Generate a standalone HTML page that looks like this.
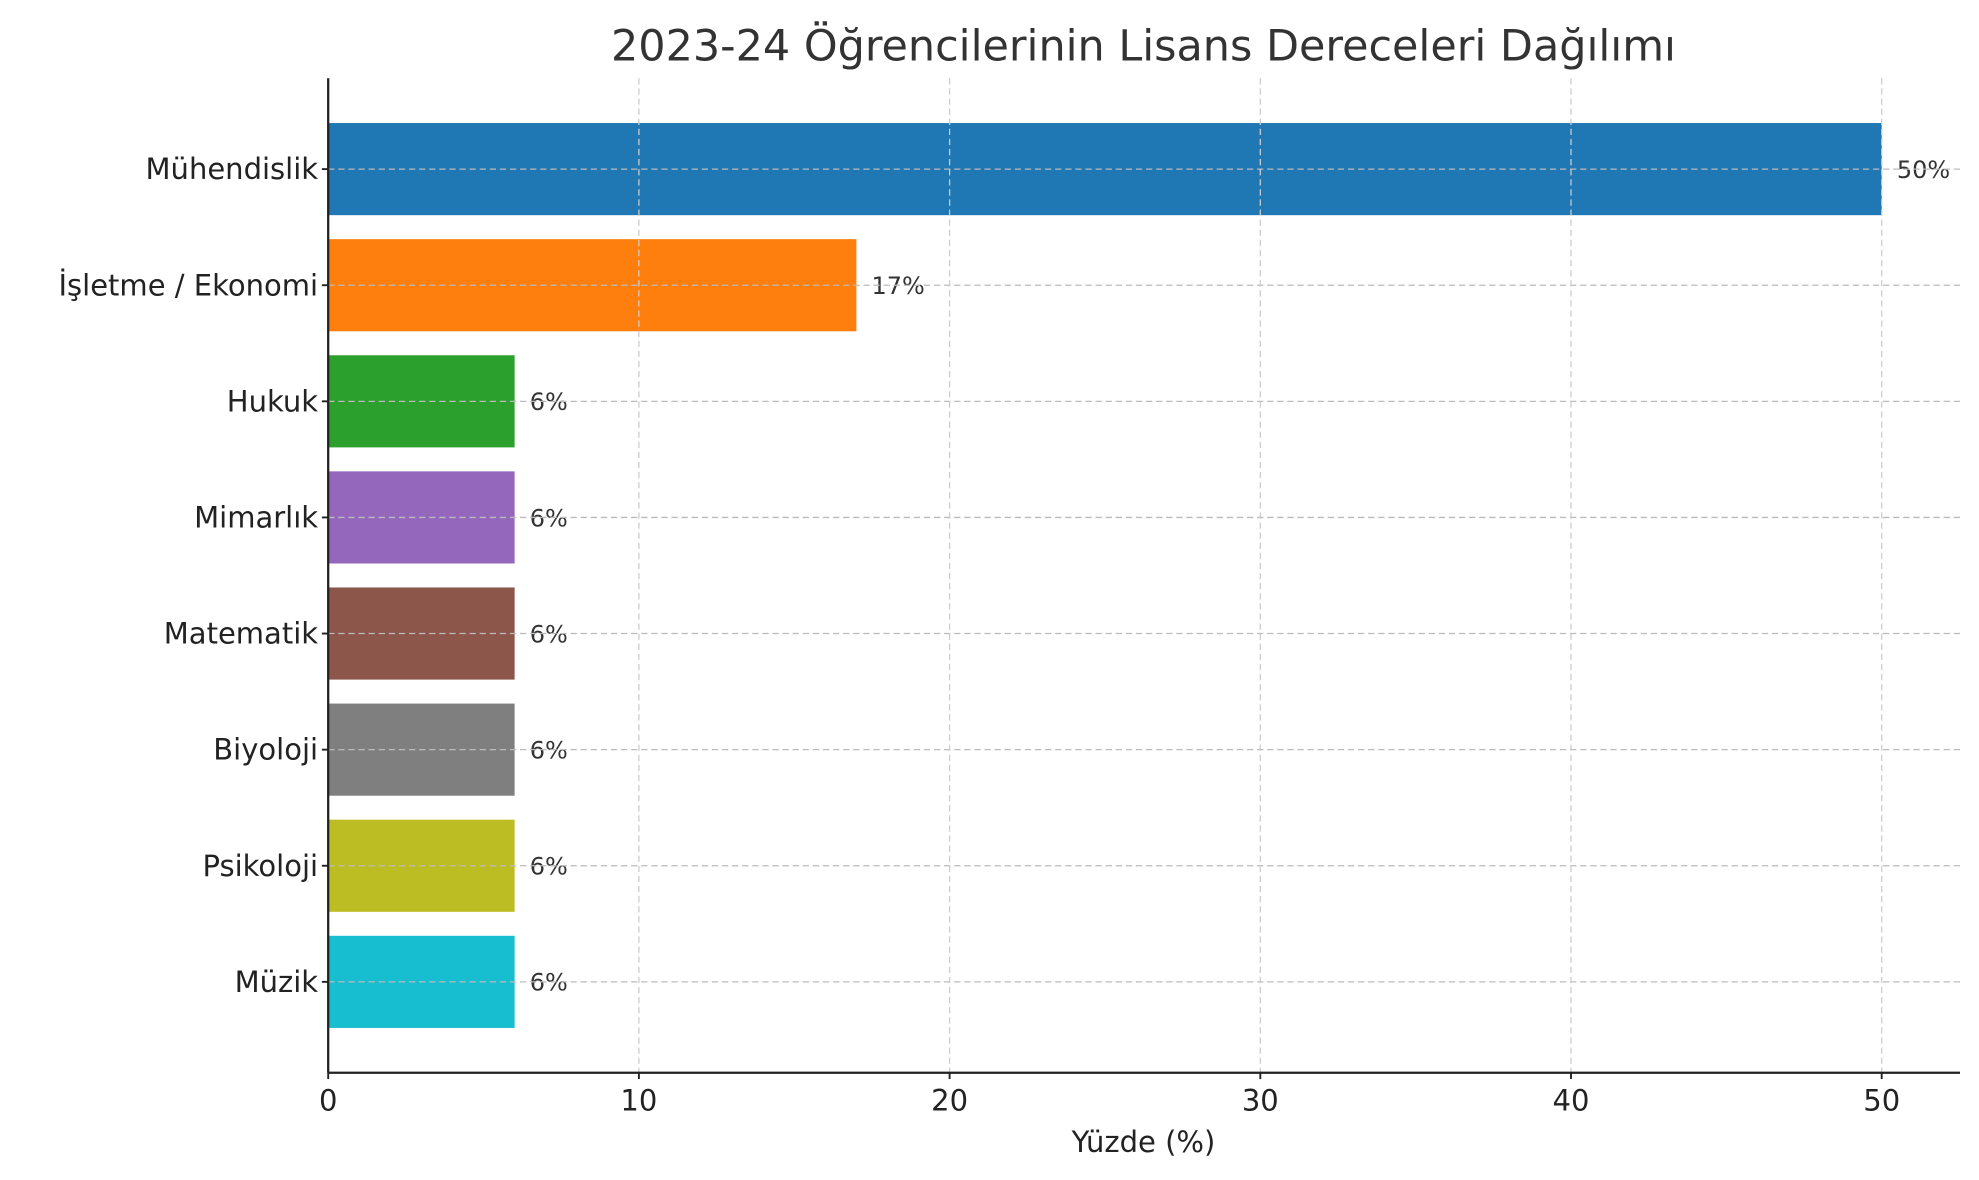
<!DOCTYPE html>
<html><head><meta charset="utf-8"><style>
html,body{margin:0;padding:0;background:#fff;}
svg{display:block;font-family:"DejaVu Sans","Liberation Sans",sans-serif;}
</style></head><body>
<svg id="chart" width="1979" height="1180" viewBox="0 0 1568 935" xmlns="http://www.w3.org/2000/svg"></svg>
<script>
const categories = ["Mühendislik","İşletme / Ekonomi","Hukuk","Mimarlık","Matematik","Biyoloji","Psikoloji","Müzik"];
const values = [50,17,6,6,6,6,6,6];
const valueLabels = ["50%","17%","6%","6%","6%","6%","6%","6%"];
const colors = ["#1f77b4","#ff7f0e","#2ca02c","#9467bd","#8c564b","#7f7f7f","#bcbd22","#17becf"];
const xTicks = [0,10,20,30,40,50];

const svg = document.getElementById('chart');
const NS = "http://www.w3.org/2000/svg";
const L=260, R=1553, T=62, B=850;
const xMax=52.52;
const x = v => L + v/xMax*(R-L);
const y = i => 134 + i*92;
const barH = 73;
function mk(tag, attrs, parent){const e=document.createElementNS(NS,tag);for(const k in attrs)e.setAttribute(k,attrs[k]);(parent||svg).appendChild(e);return e;}

const title = mk('text',{x:906,y:48,'text-anchor':'middle','font-size':34,fill:'#333'});


title.textContent="2023-24 Öğrencilerinin Lisans Dereceleri Dağılımı";

categories.forEach((c,i)=>{
  const r = mk('rect',{x:L,y:y(i)-barH/2,width:x(values[i])-L,height:barH,fill:colors[i]});
  
  
  const vl = mk('text',{x:x(values[i])+12,y:y(i)+7,'font-size':19,fill:'#333'});
  
  
  vl.textContent=valueLabels[i];
  const cl = mk('text',{x:252,y:y(i)+8,'text-anchor':'end','font-size':23,fill:'#222'});
  
  
  cl.textContent=c;
  const tk = mk('line',{x1:255,x2:L,y1:y(i),y2:y(i),stroke:'#222','stroke-width':1.5});
  
  
  const g = mk('line',{x1:L,x2:R,y1:y(i),y2:y(i),stroke:'#bbb','stroke-width':1,'stroke-dasharray':'5,3'});
  
  
});
xTicks.forEach(t=>{
  const g = mk('line',{x1:x(t),x2:x(t),y1:T,y2:B,stroke:'#ccc','stroke-width':1,'stroke-dasharray':'5,3'});
  
  
  const tk = mk('line',{x1:x(t),x2:x(t),y1:B,y2:B+5,stroke:'#222','stroke-width':1.5});
  
  
  const tl = mk('text',{x:x(t),y:880,'text-anchor':'middle','font-size':23,fill:'#222'});
  
  
  tl.textContent=t;
});
const ax1 = mk('line',{x1:L,x2:L,y1:T,y2:B,stroke:'#222','stroke-width':1.8});


const ax2 = mk('line',{x1:L,x2:R,y1:B,y2:B,stroke:'#222','stroke-width':1.8});


const xt = mk('text',{x:906,y:913,'text-anchor':'middle','font-size':23,fill:'#222'});


xt.textContent="Yüzde (%)";
</script>
</body></html>
